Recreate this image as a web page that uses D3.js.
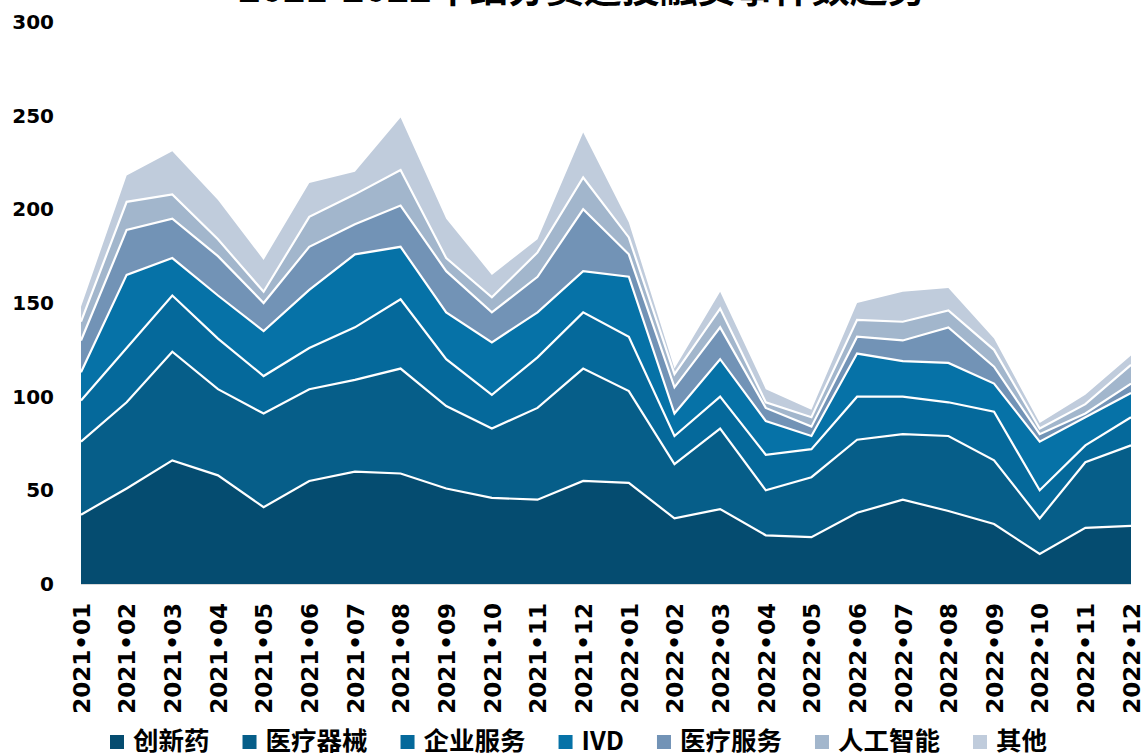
<!DOCTYPE html>
<html>
<head>
<meta charset="utf-8">
<script src="https://cdn.jsdelivr.net/npm/d3@7"></script>
<style>
  html, body { margin: 0; padding: 0; background: #ffffff; }
  svg { display: block; }
</style>
</head>
<body>
<svg id="chart" width="1145" height="756"></svg>
<script>
const months = ["2021•01","2021•02","2021•03","2021•04","2021•05","2021•06","2021•07","2021•08","2021•09","2021•10","2021•11","2021•12",
                "2022•01","2022•02","2022•03","2022•04","2022•05","2022•06","2022•07","2022•08","2022•09","2022•10","2022•11","2022•12"];
const seriesNames = ["创新药","医疗器械","企业服务","IVD","医疗服务","人工智能","其他"];
const innovativeDrug = [37,51,66,58,41,55,60,59,51,46,45,55,54,35,40,26,25,38,45,39,32,16,30,31];
const medicalDevice  = [39,46,58,46,50,49,49,56,44,37,49,60,49,29,43,24,32,39,35,40,34,19,35,43];
const enterpriseSvc  = [22,29,30,27,20,22,28,37,25,18,27,30,29,15,17,19,15,23,20,18,26,15,9,15];
const ivd            = [15,39,20,23,24,31,39,28,25,28,24,22,32,12,20,18,7,23,19,21,15,26,15,13];
const medicalSvc     = [17,24,21,21,15,23,16,22,22,16,19,33,12,14,17,7,5,9,11,19,9,4,2,5];
const ai             = [10,15,13,9,6,16,16,19,7,8,13,17,9,7,10,3,5,9,10,9,9,3,5,10];
const others         = [8,14,23,21,17,18,12,28,21,12,7,24,8,3,9,7,4,9,16,12,6,3,5,5];
const yTicks = [0,50,100,150,200,250,300];
const titleText = "2021-2022年细分赛道投融资事件数趋势";

const colors = ["#054C70","#065E89","#05699B","#0672A7","#7293B6","#A2B6CC","#C0CCDC"];
const allSeries = [innovativeDrug, medicalDevice, enterpriseSvc, ivd, medicalSvc, ai, others];

const table = months.map((m, i) => {
  const row = { month: m };
  seriesNames.forEach((s, k) => row[s] = allSeries[k][i]);
  return row;
});

const svg = d3.select("#chart");
const x = d3.scalePoint().domain(months).range([81, 1131]);
const y = d3.scaleLinear().domain([0, 300]).range([584, 22]);

const stack = d3.stack().keys(seriesNames);
const layers = stack(table);

const area = d3.area()
  .x(d => x(d.data.month))
  .y0(d => y(d[0]))
  .y1(d => y(d[1]));
const topLine = d3.line()
  .x(d => x(d.data.month))
  .y(d => y(d[1]));

// title (partially clipped at the top as in the reference)
svg.append("text")
  .attr("x", 582).attr("y", 2)
  .attr("text-anchor", "middle")
  .attr("font-family", "'Noto Sans CJK SC', sans-serif")
  .attr("font-weight", "bold")
  .attr("font-size", 38)
  .attr("fill", "#000")
  .text(titleText);

// areas
svg.append("g").selectAll("path.area")
  .data(layers).join("path")
  .attr("class", "area")
  .attr("d", area)
  .attr("fill", (d, i) => colors[i]);

// white separators
svg.append("g").selectAll("path.sep")
  .data(layers.slice(0, layers.length - 1)).join("path")
  .attr("class", "sep")
  .attr("d", topLine)
  .attr("fill", "none")
  .attr("stroke", "#ffffff")
  .attr("stroke-width", 2.2)
  .attr("stroke-linejoin", "miter");

// baseline
svg.append("line")
  .attr("x1", 81).attr("x2", 1131)
  .attr("y1", y(0) + 0.5).attr("y2", y(0) + 0.5)
  .attr("stroke", "#d9d9d9").attr("stroke-width", 1);

// y axis
const yAxis = d3.axisLeft(y).tickValues(yTicks).tickSize(0).tickPadding(0);
const yg = svg.append("g").attr("transform", "translate(54,0)").call(yAxis);
yg.select(".domain").remove();
yg.selectAll("text")
  .attr("font-family", "'DejaVu Sans', sans-serif")
  .attr("font-weight", "bold")
  .attr("font-size", 20)
  .attr("fill", "#000");

// x axis
const xAxis = d3.axisBottom(x).tickSize(0).tickPadding(0);
const xg = svg.append("g").attr("transform", `translate(0,${y(0)})`).call(xAxis);
xg.select(".domain").remove();
xg.selectAll("text")
  .attr("font-family", "'DejaVu Sans', sans-serif")
  .attr("font-weight", "bold")
  .attr("font-size", 23)
  .attr("fill", "#000")
  .attr("text-anchor", "end")
  .attr("transform", "rotate(-90)")
  .attr("x", -19)
  .attr("y", 0)
  .attr("dy", "0.36em");

// legend
const lg = svg.append("g");
let cx = 110;
seriesNames.forEach((name, i) => {
  lg.append("rect")
    .attr("x", cx).attr("y", 735)
    .attr("width", 14).attr("height", 14)
    .attr("fill", colors[i]);
  const t = lg.append("text")
    .attr("x", cx + 23).attr("y", 741)
    .attr("dy", "0.36em")
    .attr("font-family", "'Noto Sans CJK SC', sans-serif")
    .attr("font-weight", "bold")
    .attr("font-size", 25.5)
    .attr("fill", "#000")
    .text(name);
  const w = t.node().getComputedTextLength();
  cx = cx + 23 + w + 33;
});
</script>
</body>
</html>
